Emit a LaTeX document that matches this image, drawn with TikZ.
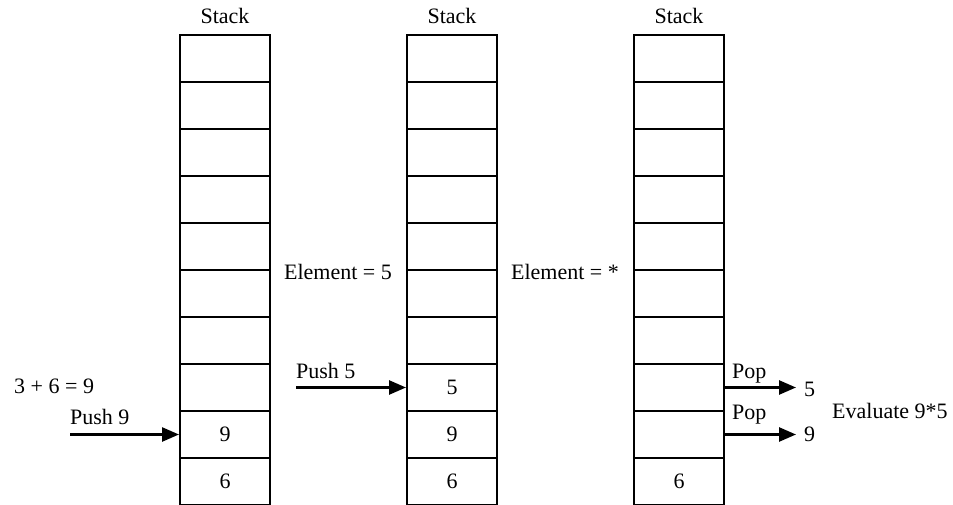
\documentclass[tikz,border=0pt]{standalone}
\usepackage{fontspec}
\setmainfont{Liberation Serif}
\usetikzlibrary{arrows.meta}

\begin{document}
\begin{tikzpicture}
[every node/.style={inner sep=0pt, font=\fontsize{22}{26}\selectfont},
 cell/.style={rectangle, minimum width=90pt, minimum height=47pt, line width=2pt, draw=black},
 push/.style={line width=2.5pt, -{Triangle[length=17pt,width=14pt]}, color=black}]
\useasboundingbox (0pt, 0pt) rectangle (953pt, -505pt);
% first stack
\node (a1) [cell] at (225pt, -58.5pt) {};
\node (a2) [cell] at (225pt, -105.5pt) {};
\node (a3) [cell] at (225pt, -152.5pt) {};
\node (a4) [cell] at (225pt, -199.5pt) {};
\node (a5) [cell] at (225pt, -246.5pt) {};
\node (a6) [cell] at (225pt, -293.5pt) {};
\node (a7) [cell] at (225pt, -340.5pt) {};
\node (a8) [cell] at (225pt, -387.5pt) {};
\node (a9) [cell] at (225pt, -434.5pt) {9};
\node (a10) [cell] at (225pt, -481.5pt) {6};
% second stack
\node (b1) [cell] at (452pt, -58.5pt) {};
\node (b2) [cell] at (452pt, -105.5pt) {};
\node (b3) [cell] at (452pt, -152.5pt) {};
\node (b4) [cell] at (452pt, -199.5pt) {};
\node (b5) [cell] at (452pt, -246.5pt) {};
\node (b6) [cell] at (452pt, -293.5pt) {};
\node (b7) [cell] at (452pt, -340.5pt) {};
\node (b8) [cell] at (452pt, -387.5pt) {5};
\node (b9) [cell] at (452pt, -434.5pt) {9};
\node (b10) [cell] at (452pt, -481.5pt) {6};
% third stack
\node (c1) [cell] at (679pt, -58.5pt) {};
\node (c2) [cell] at (679pt, -105.5pt) {};
\node (c3) [cell] at (679pt, -152.5pt) {};
\node (c4) [cell] at (679pt, -199.5pt) {};
\node (c5) [cell] at (679pt, -246.5pt) {};
\node (c6) [cell] at (679pt, -293.5pt) {};
\node (c7) [cell] at (679pt, -340.5pt) {};
\node (c8) [cell] at (679pt, -387.5pt) {};
\node (c9) [cell] at (679pt, -434.5pt) {};
\node (c10) [cell] at (679pt, -481.5pt) {6};
% labels
\node (t1) [anchor=base] at (225pt, -24pt) {Stack};
\node (t2) [anchor=base] at (452pt, -24pt) {Stack};
\node (t3) [anchor=base] at (679pt, -24pt) {Stack};
\node (e1) [anchor=base] at (338pt, -279pt) {Element = 5};
\node (e2) [anchor=base] at (565pt, -279pt) {Element = *};
\node (sum) [anchor=base west] at (14pt, -393pt) {3 + 6 = 9};
\node (lp9) [anchor=base west] at (70pt, -424pt) {Push 9};
\node (lp5) [anchor=base west] at (296pt, -378pt) {Push 5};
\node (pop1) [anchor=base west] at (732pt, -378pt) {Pop};
\node (pop2) [anchor=base west] at (732pt, -419pt) {Pop};
\node (out5) [anchor=west] at (804pt, -389pt) {5};
\node (out9) [anchor=west] at (804pt, -434pt) {9};
\node (eval) [anchor=base west] at (832pt, -418pt) {Evaluate 9*5};
\coordinate (s9) at (70pt, -434.5pt);
\coordinate (s5) at (296pt, -387.5pt);
% arrows
\draw [push] (s9) to (a9.west);
\draw [push] (s5) to (b8.west);
\draw [push] (c8.east) to ([xshift=-8pt]out5.west |- c8.east);
\draw [push] (c9.east) to ([xshift=-8pt]out9.west |- c9.east);
\end{tikzpicture}
\end{document}
